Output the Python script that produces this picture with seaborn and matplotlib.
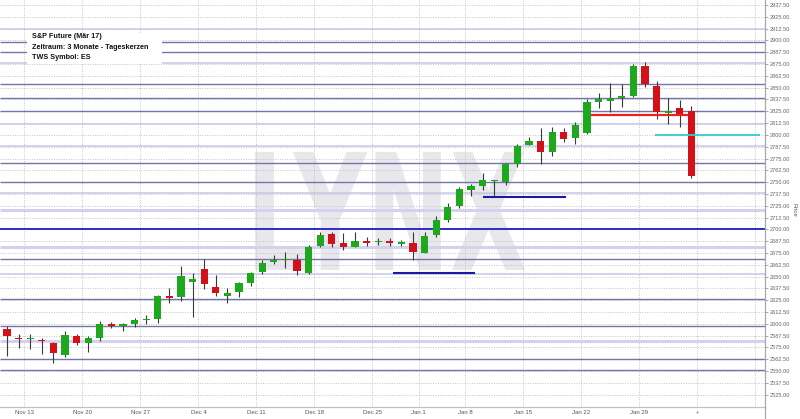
import numpy as np
import pandas as pd
import matplotlib
matplotlib.use('Agg')
import matplotlib.pyplot as plt
import seaborn as sns
from matplotlib.patches import Rectangle, PathPatch
from matplotlib.textpath import TextPath
from matplotlib.font_manager import FontProperties
from matplotlib.transforms import Affine2D

# trading days (Christmas and New Year closed)
dates = pd.bdate_range('2017-11-09', '2018-02-02', freq='C',
                       holidays=['2017-12-25', '2018-01-01'])

opens = [2594.6, 2585.5, 2584.0, 2583.0, 2580.0, 2567.0, 2587.2, 2580.1, 2585.3, 2599.5,
         2597.4, 2599.5, 2604.5, 2605.2, 2629.5, 2628.7, 2644.0, 2657.6, 2639.3, 2629.8,
         2634.0, 2643.0, 2655.2, 2666.0, 2668.0, 2667.6, 2653.5, 2682.7, 2695.1, 2685.2,
         2681.7, 2687.3, 2686.9, 2687.5, 2685.5, 2685.2, 2675.3, 2694.1, 2710.0, 2724.8,
         2741.7, 2746.2, 2751.6, 2750.5, 2768.9, 2789.3, 2793.9, 2782.2, 2802.7, 2796.6,
         2801.7, 2835.2, 2836.2, 2839.6, 2841.5, 2873.3, 2852.1, 2822.9, 2828.2, 2825.6]
highs = [2597.7, 2589.0, 2589.0, 2585.3, 2581.0, 2592.4, 2589.3, 2587.2, 2603.3, 2602.3,
         2601.0, 2606.5, 2609.4, 2630.5, 2637.6, 2661.2, 2653.5, 2668.3, 2651.7, 2637.6,
         2644.6, 2655.2, 2667.6, 2672.9, 2675.8, 2673.6, 2683.5, 2696.9, 2696.9, 2695.9,
         2696.9, 2691.6, 2690.6, 2691.2, 2688.8, 2697.6, 2696.9, 2714.2, 2728.2, 2744.5,
         2748.0, 2759.4, 2752.3, 2770.0, 2790.1, 2797.5, 2807.6, 2808.7, 2807.0, 2814.0,
         2837.7, 2844.0, 2854.6, 2853.6, 2875.1, 2877.5, 2857.1, 2839.4, 2837.0, 2830.6]
lows = [2566.0, 2574.0, 2573.0, 2567.8, 2558.9, 2565.2, 2577.6, 2570.5, 2582.2, 2596.0,
        2592.4, 2597.0, 2599.5, 2600.6, 2622.4, 2624.5, 2607.6, 2636.6, 2629.5, 2622.4,
        2628.8, 2640.4, 2652.8, 2663.4, 2658.8, 2651.7, 2652.8, 2681.7, 2681.7, 2678.2,
        2681.0, 2682.4, 2683.5, 2682.4, 2682.4, 2667.6, 2674.7, 2692.3, 2708.2, 2722.3,
        2735.3, 2741.7, 2735.3, 2747.0, 2765.7, 2789.0, 2768.9, 2777.7, 2792.8, 2790.4,
        2800.6, 2828.2, 2824.6, 2829.2, 2839.8, 2851.0, 2816.8, 2811.5, 2808.7, 2754.1]
closes = [2587.2, 2584.0, 2585.5, 2582.0, 2568.8, 2588.2, 2579.6, 2585.3, 2599.5, 2598.5,
          2600.2, 2604.1, 2605.3, 2629.5, 2628.4, 2650.7, 2647.2, 2641.9, 2632.3, 2633.0,
          2643.0, 2654.1, 2664.1, 2667.6, 2668.7, 2655.9, 2681.0, 2694.1, 2684.2, 2681.7,
          2688.0, 2686.3, 2688.0, 2686.6, 2686.4, 2676.4, 2693.0, 2709.9, 2724.0, 2742.4,
          2745.9, 2752.3, 2752.0, 2769.2, 2788.3, 2793.9, 2782.2, 2803.4, 2795.7, 2810.3,
          2834.5, 2838.0, 2839.4, 2839.8, 2873.3, 2853.6, 2823.9, 2825.0, 2822.1, 2756.5]

# horizontal chart lines drawn in TWS
dark_levels = [2898.7, 2888.1, 2853.6, 2839.4, 2825.6, 2770.1, 2749.8, 2668.3,
               2625.8, 2597.4, 2563.3, 2551.1]
light_levels = [2911.8, 2875.8, 2811.2, 2788.6, 2738.2, 2652.7]
light_thick_levels = [2720.5, 2681.0, 2582.0]
blue_level = 2700.1

# short trend marks: (start index, end index, price)
navy_marks = [(33.3, 40.3, 2653.8), (41.0, 48.2, 2734.3)]
red_mark = (50.3, 58.7, 2821.1)
cyan_mark = (55.9, 64.9, 2799.6)

info_lines = ['S&P Future (Mär 17)', 'Zeitraum: 3 Monate - Tageskerzen', 'TWS Symbol: ES']

df = pd.DataFrame({'date': dates, 'open': opens, 'high': highs, 'low': lows, 'close': closes})
df['i'] = np.arange(len(df))

sns.set_style('white')
plt.rcParams['font.family'] = ['Liberation Sans', 'DejaVu Sans']

W, H = 800, 419
fig = plt.figure(figsize=(W / 100, H / 100), dpi=100)
ax = fig.add_axes([0, 12 / H, 765 / W, 407 / H])

# watermark
tp = TextPath((0, 0), 'LYNX', size=1, prop=FontProperties(family='DejaVu Sans', weight='bold'))
ext = tp.get_extents()
x0, x1, y0, y1 = 255, 525, H - 270, H - 152
tr = (Affine2D().translate(-ext.x0, -ext.y0)
      .scale((x1 - x0) / ext.width, (y1 - y0) / ext.height)
      .translate(x0, y0) + Affine2D().scale(1 / W, 1 / H) + fig.transFigure)
ax.add_patch(PathPatch(tp, transform=tr, facecolor='#e8e8ec', edgecolor='none', zorder=0.3))

ax.set_xlim(-0.603, 65.34)
ax.set_ylim(2512.0, 2942.8)

# weekly ticks
week = df['date'].dt.to_period('W')
starts = df.index[week != week.shift()].tolist()[1:]
tick_pos = [s - 0.5 for s in starts] + [len(df) - 0.5, len(df) + 4.5]
tick_lab = []
for s in starts:
    d = df['date'][s]
    mon = d - pd.Timedelta(days=d.weekday())
    tick_lab.append(f'{mon:%b} {mon.day}')
tick_lab += ['+', '']
ax.set_xticks(tick_pos)
ax.set_xticklabels(tick_lab, fontsize=4.3, color='#555555')
ax.set_yticks(np.arange(2525, 2937.6, 12.5))
ax.yaxis.tick_right()
ax.set_yticklabels([f'{v:.2f}' for v in np.arange(2525, 2937.6, 12.5)], fontsize=4.1, color='#666666')
ax.tick_params(axis='x', length=0, pad=2)
ax.tick_params(axis='y', length=2.5, width=0.6, color='#999999', pad=1.2)
ax.set_axisbelow(True)
ax.grid(True, linestyle=(0, (1, 1.5)), color='#c4c4c4', linewidth=0.7)

for s in ['top', 'left']:
    ax.spines[s].set_visible(False)
ax.spines['right'].set_color('#a8a8a8')
ax.spines['right'].set_linewidth(0.9)
ax.spines['bottom'].set_color('#c0c0c0')
ax.spines['bottom'].set_linewidth(0.9)
fig.add_artist(plt.Line2D([765 / W, 765 / W], [0, 12 / H], color='#a8a8a8', lw=0.9))

xl = ax.get_xlim()
ax.hlines(dark_levels, *xl, color='#7474ac', lw=1.0, zorder=1)
ax.hlines(light_levels, *xl, color='#c6c6e6', lw=1.1, zorder=1)
ax.hlines(light_thick_levels, *xl, color='#d2d2ee', lw=2.2, zorder=1)
ax.hlines([blue_level], *xl, color='#2c2cc8', lw=1.4, zorder=1)

# candles
up = df['close'] >= df['open']
colors = np.where(up, '#1ea81e', '#d41018')
ax.vlines(df['i'], df['low'], df['high'], color='#3a3a3a', lw=0.8, zorder=2)
body_lo = df[['open', 'close']].min(axis=1)
body_h = (df['close'] - df['open']).abs().clip(lower=1.6)
ax.bar(df['i'], body_h, bottom=body_lo - np.where(body_h > 1.6, 0, 0.5), width=0.62,
       color=colors, edgecolor='none', zorder=3)

for a, b, p in navy_marks:
    ax.hlines(p, a, b, color='#1a1aa0', lw=1.5, zorder=4)
ax.hlines(red_mark[2], red_mark[0], red_mark[1], color='#e82222', lw=1.6, zorder=4)
ax.hlines(cyan_mark[2], cyan_mark[0], cyan_mark[1], color='#33cccc', lw=1.3, zorder=4)

# info box
fig.add_artist(Rectangle((27 / W, 1 - 64 / H), 135 / W, 31 / H, transform=fig.transFigure,
                         facecolor='white', edgecolor='none', zorder=2))
for k, t in enumerate(info_lines):
    fig.text(32 / W, 1 - (37 + 10.3 * k) / H, t, fontsize=5.2, fontweight='bold',
             color='#111111', va='center', ha='left', zorder=3)

fig.text(794 / W, 1 - 210 / H, 'Price', rotation=270, fontsize=4.3, color='#555555',
         ha='center', va='center')

fig.savefig('out.png', dpi=100)
